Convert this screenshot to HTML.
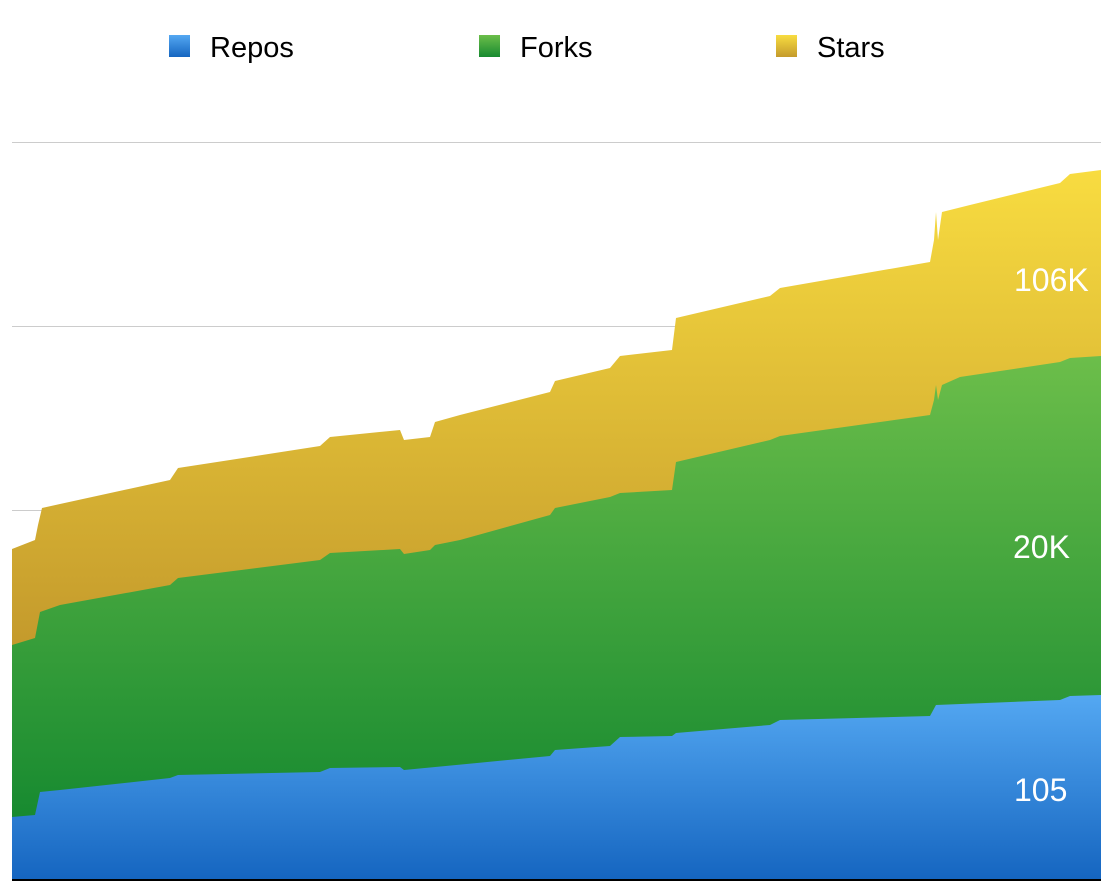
<!DOCTYPE html>
<html><head><style>body{margin:0;background:#fff}svg{display:block}</style></head><body>
<svg width="1108" height="894" xmlns="http://www.w3.org/2000/svg" font-family="Liberation Sans, sans-serif">
<defs>
<linearGradient id="gs" gradientUnits="userSpaceOnUse" x1="0" y1="170" x2="0" y2="645"><stop offset="0" stop-color="#f8dc40"/><stop offset="1" stop-color="#c49a2c"/></linearGradient>
<linearGradient id="gf" gradientUnits="userSpaceOnUse" x1="0" y1="356" x2="0" y2="817"><stop offset="0" stop-color="#6cbe4a"/><stop offset="1" stop-color="#178a30"/></linearGradient>
<linearGradient id="gr" gradientUnits="userSpaceOnUse" x1="0" y1="695" x2="0" y2="880"><stop offset="0" stop-color="#54a8f2"/><stop offset="1" stop-color="#1565c0"/></linearGradient>
<linearGradient id="l1" x1="0" y1="0" x2="0" y2="1"><stop offset="0" stop-color="#54a8f2"/><stop offset="1" stop-color="#1565c0"/></linearGradient>
<linearGradient id="l2" x1="0" y1="0" x2="0" y2="1"><stop offset="0" stop-color="#6cbe4a"/><stop offset="1" stop-color="#178a30"/></linearGradient>
<linearGradient id="l3" x1="0" y1="0" x2="0" y2="1"><stop offset="0" stop-color="#f8dc40"/><stop offset="1" stop-color="#c49a2c"/></linearGradient>
</defs>
<g stroke="#ccc" stroke-width="1"><line x1="12" y1="142.5" x2="1101" y2="142.5"/><line x1="12" y1="326.5" x2="1101" y2="326.5"/><line x1="12" y1="510.5" x2="1101" y2="510.5"/></g>
<polygon fill="url(#gs)" points="12,880 12,549 35,540 38,525 42,508 60,504 170,480 178,468 230,460 320,446 330,437 400,430 404,440 430,437 435,422 460,415 550,392 555,381 610,368 620,356 672,350 676,318 770,296 780,288 930,262 934,240 936,212 938,240 942,212 970,205 1060,183 1070,174 1101,170 1101,880"/>
<polygon fill="url(#gf)" points="12,880 12,645 35,638 40,612 60,605 170,585 178,578 320,560 330,553 400,549 404,554 430,550 435,545 460,540 550,515 555,508 610,497 620,493 672,490 676,462 770,440 780,436 930,415 934,400 936,385 938,400 942,385 960,377 1060,362 1070,358 1101,356 1101,880"/>
<polygon fill="url(#gr)" points="12,880 12,817 35,815 40,792 60,790 170,778 178,775 320,772 330,768 400,767 404,770 550,756 555,750 610,746 620,737 672,736 676,733 770,725 780,720 930,716 936,705 1060,700 1070,696 1101,695 1101,880"/>
<line x1="12" y1="880" x2="1101" y2="880" stroke="#000" stroke-width="2"/>
<g fill="#fff" font-size="32"><text x="1014" y="291">106K</text><text x="1013" y="558">20K</text><text x="1014" y="801">105</text></g>
<rect x="169" y="35" width="21" height="22" fill="url(#l1)"/><rect x="479" y="35" width="21" height="22" fill="url(#l2)"/><rect x="776" y="35" width="21" height="22" fill="url(#l3)"/>
<g font-size="29" fill="#000"><text x="210" y="57">Repos</text><text x="520" y="57">Forks</text><text x="817" y="57">Stars</text></g>
</svg>
</body></html>
